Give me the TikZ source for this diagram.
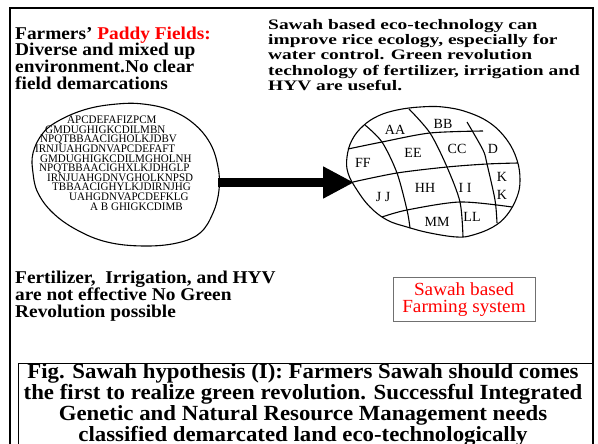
\documentclass[tikz,border=0pt]{standalone}
\usepackage{fontspec}
\setmainfont{Liberation Serif}
\newfontfamily\titlefont[FakeStretch=1.075]{Liberation Serif}
\newfontfamily\widefont[FakeStretch=1.34]{Liberation Serif}
\newfontfamily\capfont[FakeStretch=1.057]{Liberation Serif}
\newfontfamily\mixfont[FakeStretch=0.96]{Liberation Serif}
\newfontfamily\boxfont[FakeStretch=1.04]{Liberation Serif}
\usetikzlibrary{arrows.meta}
\definecolor{fieldred}{RGB}{255,0,0}
\definecolor{boxgray}{RGB}{112,112,112}

\begin{document}
\begin{tikzpicture}[x=1pt,y=-1pt,
  frame/.style={line width=2.6pt, line join=miter},
  eggline/.style={line width=1.1pt},
  dyke/.style={line width=1.1pt},
  blurb/.style={inner sep=0pt, anchor=north west, align=left},
  plotlabel/.style={inner sep=0pt, font=\fontsize{14}{14}\selectfont},
]
\useasboundingbox (0,0) rectangle (598,444);
\clip (0,0) rectangle (598,444);
\fill[white] (0,0) rectangle (598,444);

% outer frame, open at the bottom
\draw[frame] (10,450) -- (10,8) -- (593,8) -- (593,450);

% text blocks
\node[blurb, font=\titlefont\bfseries\fontsize{18}{16.7}\selectfont] (farmers) at (15,26.5)
  {Farmers’ \textcolor{fieldred}{Paddy Fields:}\\Diverse and mixed up\\environment.No clear\\field demarcations};
\node[blurb, font=\widefont\bfseries\fontsize{14.5}{15.2}\selectfont] (ecotech) at (268,19.3)
  {Sawah based eco-technology can\\improve rice ecology, especially for\\water control. Green revolution\\technology of fertilizer, irrigation and\\HYV are useful.};
\node[blurb, font=\titlefont\bfseries\fontsize{18}{17}\selectfont] (noeffect) at (15,270.9)
  {Fertilizer,\ \ Irrigation, and HYV\\are not effective No Green\\Revolution possible};

% mixed-up paddy field
\draw[eggline] plot[smooth cycle, tension=0.65] coordinates {
  (117,104) (143,104) (170,110) (193,123) (210,143) (218,167) (219,190)
  (213,213) (200,233) (177,243) (143,246) (107,242) (77,230) (53,213)
  (38,193) (33,173) (33,153) (43,133) (60,120) (87,109)};
\node[blurb, font=\mixfont\fontsize{11.5}{9.6}\selectfont] (mixed) at (35,115.9)
  {\hspace*{32pt}APCDEFAFIZPCM\\
   \hspace*{10pt}GMDUGHIGKCDILMBN\\
   \hspace*{5pt}NPQTBBAACIGHOLKJDBV\\
   IRNJUAHGDNVAPCDEFAFT\\
   \hspace*{5pt}GMDUGHIGKCDILMGHOLNH\\
   \hspace*{4pt}NPQTBBAACIGHXLKJDHGLP\\
   \hspace*{12pt}IRNJUAHGDNVGHOLKNPSD\\
   \hspace*{17pt}TBBAACIGHYLKJDIRNJHG\\
   \hspace*{34pt}UAHGDNVAPCDEFKLG\\
   \hspace*{55pt}A B GHIGKCDIMB};

% demarcated sawah field
\draw[eggline] plot[smooth cycle, tension=0.65] coordinates {
  (352,140) (363,126) (378,116) (397,110) (420,107) (443,107) (467,112)
  (490,123) (507,140) (517,160) (520,180) (517,197) (507,215) (493,227)
  (473,235) (457,237) (430,233) (407,227) (387,220) (370,207) (357,190)
  (348,173) (347,157)};
\draw[dyke] plot[smooth] coordinates {(348,149) (382,142) (430,133) (483,131)};
\draw[dyke] plot[smooth] coordinates {(353,182) (397,173) (447,167) (487,164) (518,163)};
\draw[dyke] plot[smooth] coordinates {(382,217) (407,210) (460,202) (512,207)};
\draw[dyke] plot[smooth] coordinates {(365,125) (382,142) (397,173) (407,210) (410,228)};
\draw[dyke] plot[smooth] coordinates {(409,109) (430,133) (447,167) (460,202) (463,237)};
\draw[dyke] plot[smooth] coordinates {(467,122) (483,150) (487,164) (495,200) (497,223)};

\node[plotlabel] (aa) at (395,130) {AA};
\node[plotlabel] (bb) at (443,124) {BB};
\node[plotlabel] (ee) at (413,153) {EE};
\node[plotlabel] (cc) at (457,149) {CC};
\node[plotlabel] (dd) at (493,149) {D};
\node[plotlabel] (ff) at (363,163) {FF};
\node[plotlabel] (hh) at (425,188) {HH};
\node[plotlabel] (ii) at (465,188) {I I};
\node[plotlabel] (k1) at (502,177) {K};
\node[plotlabel] (k2) at (502,195) {K};
\node[plotlabel] (jj) at (383,197) {J J};
\node[plotlabel] (mm) at (437,222) {MM};
\node[plotlabel] (ll) at (472,217) {LL};

% transition arrow
\coordinate (paddyE) at (218,182.5);
\coordinate (sawahW) at (354,182.5);
\draw[line width=9pt, -{Triangle[length=31pt,width=30pt]}] (paddyE) -- (sawahW);

% sawah farming label
\node[draw=boxgray, line width=0.9pt, text=fieldred, align=center, inner sep=0pt,
      minimum width=142pt, minimum height=44pt,
      font=\boxfont\fontsize{18.5}{17}\selectfont] (sbox) at (464,299.5)
  {Sawah based\\Farming system};

% caption
\draw[line width=1pt] (18,450) |- (593,363);
\node[inner sep=0pt, anchor=north, align=center,
      font=\capfont\bfseries\fontsize{21.6}{18.7}\selectfont] (caption) at (303,363.2)
  {Fig. Sawah hypothesis (I): Farmers Sawah should comes\\the first to realize green revolution. Successful Integrated\\Genetic and Natural Resource Management needs\\classified demarcated land eco-technologically};
\end{tikzpicture}
\end{document}
